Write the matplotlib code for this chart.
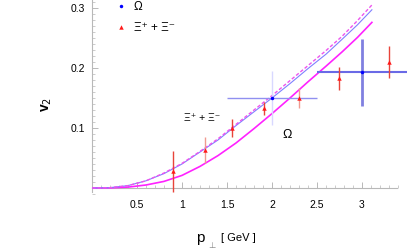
import matplotlib
matplotlib.use("Agg")
import matplotlib.pyplot as plt
from matplotlib.ticker import MultipleLocator, FixedLocator
from matplotlib.lines import Line2D

# ---- data ----
p_curve = [0, 0.2, 0.4, 0.6, 0.8, 1.0, 1.2, 1.4, 1.6, 1.8, 2.0, 2.2, 2.4, 2.6, 2.78, 2.95, 3.11]
v2_blue = [0, 0.0005, 0.004, 0.012, 0.024, 0.040, 0.060, 0.080, 0.104, 0.127, 0.150,
           0.174, 0.199, 0.223, 0.248, 0.272, 0.297]
v2_dashed = [0, 0.0005, 0.004, 0.012, 0.025, 0.041, 0.061, 0.082, 0.106, 0.130, 0.154,
             0.179, 0.204, 0.229, 0.253, 0.279, 0.305]
v2_solid = [0, 0.0002, 0.0015, 0.005, 0.011, 0.021, 0.036, 0.054, 0.075, 0.099, 0.124,
            0.150, 0.177, 0.203, 0.227, 0.251, 0.276]

xi_p = [0.90, 1.26, 1.56, 1.91, 2.30, 2.74, 3.30]
xi_v2 = [0.028, 0.063, 0.100, 0.133, 0.150, 0.183, 0.210]
xi_err = [0.034, 0.022, 0.015, 0.011, 0.017, 0.019, 0.027]

om_p = [2.0, 3.0]
om_v2 = [0.150, 0.193]
om_xerr = [0.5, 0.5]
om_yerr = [0.045, 0.056]

x_ticks = [0.5, 1, 1.5, 2, 2.5, 3]
x_ticklabels = ["0.5", "1", "1.5", "2", "2.5", "3"]
y_ticks = [0.1, 0.2, 0.3]
y_ticklabels = ["0.1", "0.2", "0.3"]

FAM = ["Liberation Sans", "DejaVu Sans"]
plt.rcParams['font.family'] = FAM

W, H = 407, 249
fig = plt.figure(figsize=(W / 100, H / 100), dpi=100)
ax = fig.add_axes([92 / W, 55 / H, (W - 92) / W, 194 / H])
ax.set_xlim(0, 3.5)
ax.set_ylim(-0.01, 0.3133)

# curves
ax.plot(p_curve, v2_solid, color="#ff22ff", lw=1.2, zorder=3)
ax.plot(p_curve, v2_blue, color="#8080ff", lw=0.8, zorder=3)
ax.plot(p_curve, v2_dashed, color="#ee55ee", lw=1.0, ls=(0, (2.5, 1.5)), zorder=3)

# Omega error bars (first lighter, second stronger)
om_styles = [dict(h="#9090f0", v="#d8d8ff", hw=1.0, vw=1.0),
             dict(h="#6a6ae6", v="#8080e0", hw=1.5, vw=2.0)]
for x, y, xe, ye, st in zip(om_p, om_v2, om_xerr, om_yerr, om_styles):
    ax.errorbar([x], [y], xerr=[xe], fmt="none",
                ecolor=st["h"], elinewidth=st["hw"], capsize=0, zorder=4, clip_on=False)
    ax.errorbar([x], [y], yerr=[ye], fmt="none",
                ecolor=st["v"], elinewidth=st["vw"], capsize=0, zorder=4, clip_on=False)
ax.plot(om_p, om_v2, "o", color="#0000ff", ms=2.5, mew=0, zorder=6, clip_on=False)

# Xi error bars
xi_cols = ["#e8443a", "#f09a90", "#e8443a", "#e8443a", "#f09a90", "#e8443a", "#e8443a"]
for x, y, e, c in zip(xi_p, xi_v2, xi_err, xi_cols):
    ax.errorbar([x], [y], yerr=[e], fmt="none", ecolor=c, elinewidth=1.0, capsize=0, zorder=4)
ax.plot(xi_p, xi_v2, "^", color="#ff1a1a", ms=3.2, mew=0, zorder=6)

# axes styling
for s in ["top", "right"]:
    ax.spines[s].set_visible(False)
ax.spines["bottom"].set_position(("data", 0))
ax.spines["bottom"].set_bounds(0, 3.39)
ax.spines["left"].set_bounds(-0.006, 0.3133)
for s in ["bottom", "left"]:
    ax.spines[s].set_color("#b8b8b8")
    ax.spines[s].set_linewidth(0.8)

ax.xaxis.set_major_locator(FixedLocator(x_ticks))
ax.set_xticklabels(x_ticklabels)
ax.yaxis.set_major_locator(FixedLocator(y_ticks))
ax.set_yticklabels(y_ticklabels)
ax.xaxis.set_minor_locator(MultipleLocator(0.1))
ax.yaxis.set_minor_locator(MultipleLocator(0.01))
ax.tick_params(which="both", direction="in", color="#b8b8b8", labelsize=7.5)
ax.tick_params(which="major", length=4, width=0.7)
ax.tick_params(which="minor", length=2, width=0.5)
ax.tick_params(axis="x", pad=9)
ax.tick_params(axis="y", pad=5)

# axis labels
fig.text(47 / W, 1 - 104 / H, "v$_2$", rotation=90, fontsize=10, ha="center", va="center",
         fontweight="bold")
fig.text(196 / W, 1 - 238 / H, "p", fontsize=11, ha="left", va="center")
fig.text(208 / W, 1 - 246 / H, "\u22a5", fontsize=6, ha="left", va="center", color="#888888")
fig.text(221 / W, 1 - 238 / H, "[ GeV ]", fontsize=8, ha="left", va="center")

# in-plot labels
ax.text(1.22, 0.117, "\u039e\u207a + \u039e\u207b", fontsize=7.5, ha="center", va="center")
ax.text(2.17, 0.088, "\u03a9", fontsize=9, ha="center", va="center")

# legend
handles = [Line2D([], [], ls="none", marker="o", color="#0000ff", ms=2.5, mew=0),
           Line2D([], [], ls="none", marker="^", color="#ff1a1a", ms=3.2, mew=0)]
leg = fig.legend(handles, ["\u03a9", "\u039e\u207a + \u039e\u207b"],
                 loc="upper left", bbox_to_anchor=(116 / W, 1 - 1 / H),
                 frameon=False, fontsize=8.5, handlelength=0.8, handletextpad=0.7,
                 labelspacing=0.75, borderpad=0, borderaxespad=0)

fig.savefig("out.png", dpi=100)
